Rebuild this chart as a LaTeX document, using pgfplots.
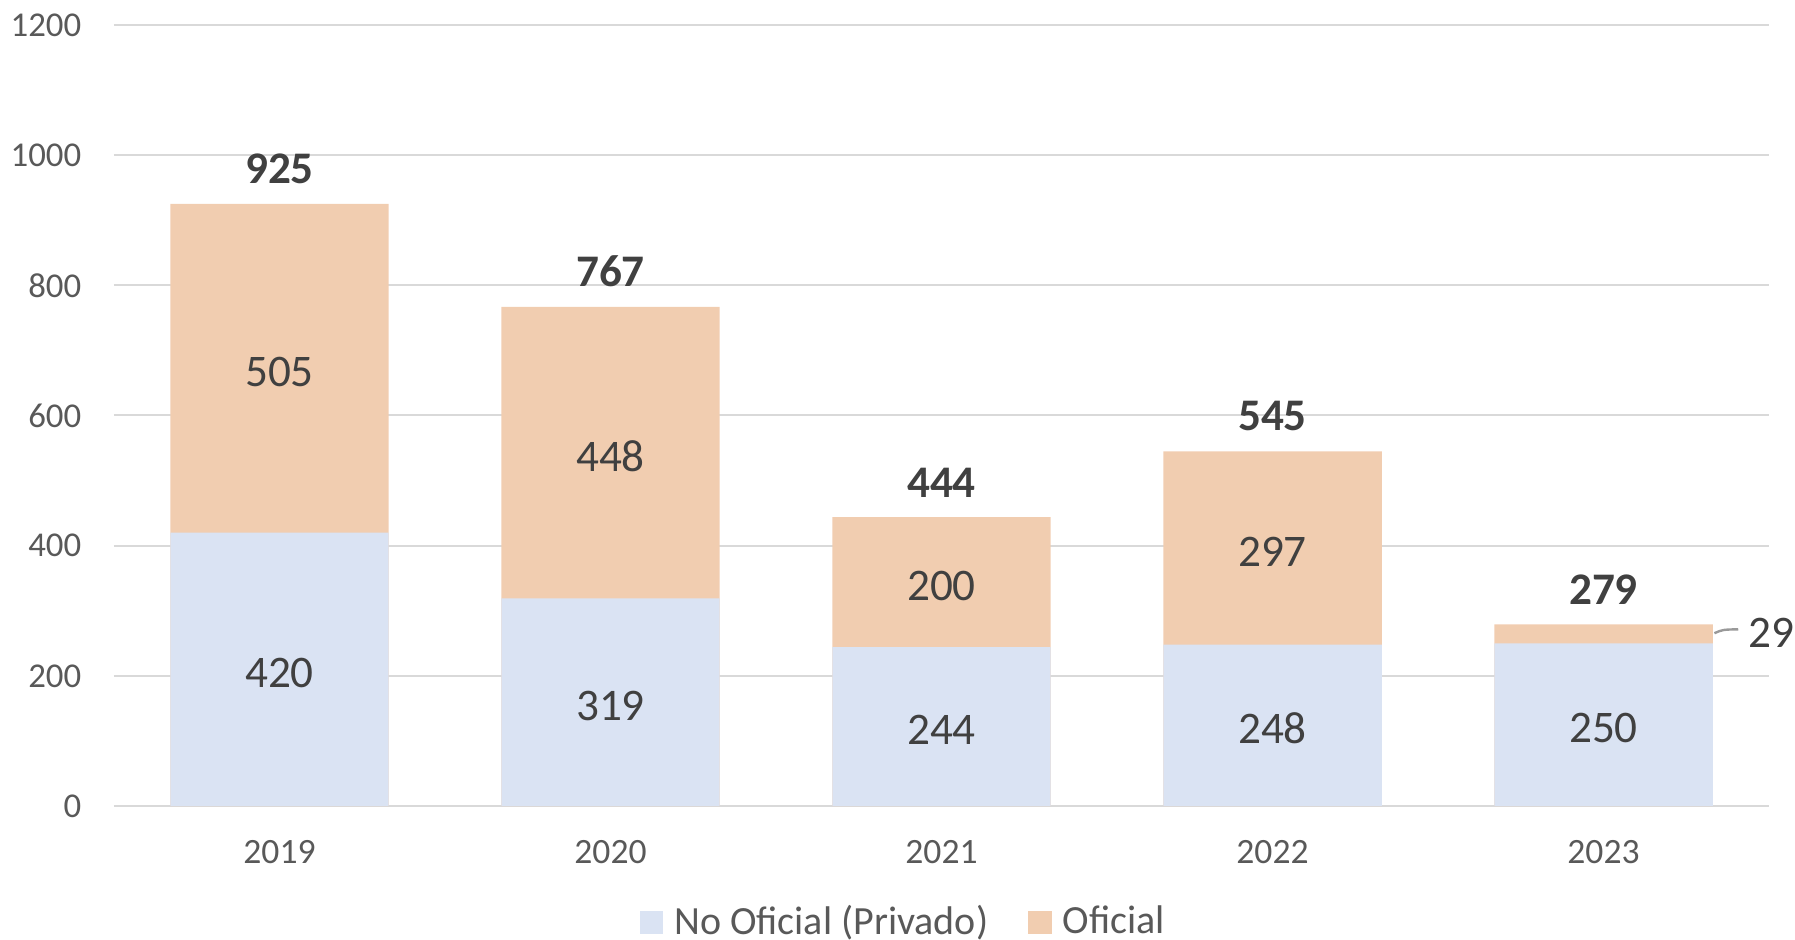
\documentclass[border=0pt]{standalone}
\usepackage{fontspec}
\setmainfont{Carlito}
\usepackage{pgfplots}
\pgfplotsset{compat=1.18}
\usepackage{pgfplotstable}
\definecolor{privc}{HTML}{DAE3F3}
\definecolor{ofic}{HTML}{F1CDB0}
\definecolor{gridc}{HTML}{D9D9D9}
\definecolor{tickc}{HTML}{595959}
\definecolor{labc}{HTML}{404040}

\pgfplotstableread{
x priv off tot privmid
0 420 505 925 210
1 319 448 767 159.5
2 244 200 444 122
3 248 297 545 124
4 250 29 279 125
}\data

\pgfplotstableread{
x offmid lab
0 672.5 505
1 543 448
2 344 200
3 396.5 297
}\offlab

\pgfplotstableread{
x y lab
4.437 269 29
}\smalllab

\begin{document}
\begin{tikzpicture}
\begin{axis}[
  scale only axis, width=413.75pt, height=195.25pt,
  xmin=-0.5, xmax=4.5, ymin=0, ymax=1200,
  ytick={0,200,...,1200},
  xtick={0,1,2,3,4}, xticklabels={2019,2020,2021,2022,2023},
  ymajorgrids, grid style={gridc, line width=0.5pt},
  axis line style={draw=none},
  major tick length=0pt,
  tick style={draw=none},
  /pgf/number format/assume math mode=true,
  /pgf/number format/1000 sep={},
  yticklabel style={anchor=east, inner sep=0pt, xshift=-8pt, font=\fontsize{8.7}{10}\selectfont, text=tickc},
  xticklabel style={anchor=center, inner sep=0pt, yshift=-11.5pt, font=\fontsize{8.9}{10}\selectfont, text=tickc},
  legend style={at={(0.4763,-0.149)}, anchor=center, draw=none, fill=none,
     font=\fontsize{10}{12}\selectfont, text=tickc, legend columns=2,
     nodes={inner sep=0pt},
     /tikz/every odd column/.append style={column sep=2.75pt},
     /tikz/every even column/.append style={column sep=10pt}},
  clip=false,
]
\addplot[ybar, bar width=0.66, bar shift=0pt, fill=ofic, draw=none, forget plot,
  nodes near coords, point meta=explicit symbolic,
  nodes near coords style={anchor=south, inner sep=0pt, yshift=4.8pt,
     font=\bfseries\fontsize{11.3}{13}\selectfont, text=labc}]
  table[x=x, y=tot, meta=tot] {\data};
\addplot[ybar, bar width=0.66, bar shift=0pt, fill=privc, draw=none, forget plot]
  table[x=x, y=priv] {\data};
\addplot[draw=none, forget plot, nodes near coords, point meta=explicit symbolic,
  nodes near coords style={anchor=center, inner sep=0pt, yshift=-0.85pt, font=\fontsize{11.3}{13}\selectfont, text=labc}]
  table[x=x, y=privmid, meta=priv] {\data};
\addplot[draw=none, forget plot, nodes near coords, point meta=explicit symbolic,
  nodes near coords style={anchor=center, inner sep=0pt, yshift=-0.85pt, font=\fontsize{11.3}{13}\selectfont, text=labc}]
  table[x=x, y=offmid, meta=lab] {\offlab};
\addplot[draw=none, forget plot, nodes near coords, point meta=explicit symbolic,
  nodes near coords style={anchor=west, inner sep=0pt, yshift=-0.5pt, font=\fontsize{11.3}{13}\selectfont, text=labc}]
  table[x=x, y=y, meta=lab] {\smalllab};
\draw[gray!80, line width=0.6pt] (axis cs:4.335,265.5) .. controls (axis cs:4.36,271) .. (axis cs:4.407,271.5);
\addlegendimage{legend image code/.code={\fill[privc] (0pt,-2.75pt) rectangle (5.5pt,2.75pt);}}
\addlegendentry{No Oficial (Privado)}
\addlegendimage{legend image code/.code={\fill[ofic] (0pt,-2.75pt) rectangle (5.5pt,2.75pt);}}
\addlegendentry{Oficial}
\coordinate (bl) at (rel axis cs:0,0);
\coordinate (tr) at (rel axis cs:1,1);
\end{axis}
\pgfresetboundingbox
\path ([shift={(-28.5pt,-33.5pt)}]bl) rectangle ([shift={(6.5pt,6.25pt)}]tr);
\end{tikzpicture}
\end{document}
